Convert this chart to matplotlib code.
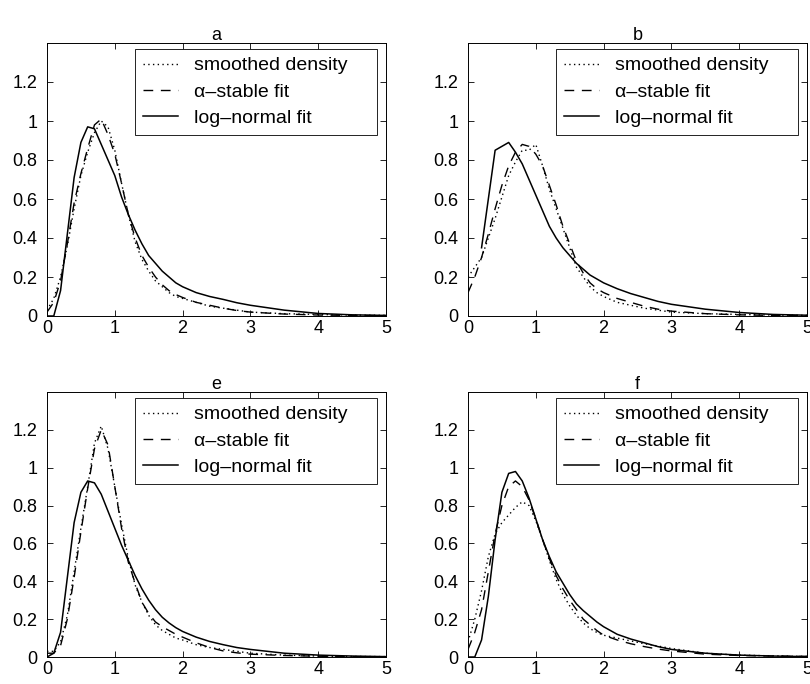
import numpy as np
import matplotlib
matplotlib.use("Agg")
import matplotlib.pyplot as plt

plt.rcParams['font.family'] = ['Liberation Sans', 'DejaVu Sans']
plt.rcParams['font.size'] = 13

nan = np.nan
x = [0.0, 0.1, 0.2, 0.3, 0.4, 0.5, 0.6, 0.7, 0.8, 0.9, 1.0,
     1.1, 1.2, 1.3, 1.4, 1.5, 1.6, 1.7, 1.8, 1.9, 2.0,
     2.2, 2.4, 2.6, 2.8, 3.0, 3.5, 4.0, 4.5, 5.0]

panel_titles = ['a', 'b', 'e', 'f']
legend_labels = ['smoothed density', '\u03b1\u2013stable fit', 'log\u2013normal fit']
xticks = [0, 1, 2, 3, 4, 5]
yticks = [0, 0.2, 0.4, 0.6, 0.8, 1.0, 1.2]
ytick_labels = ['0', '0.2', '0.4', '0.6', '0.8', '1', '1.2']

dens_a = [0.03, 0.09, 0.2, 0.36, 0.55, 0.72, 0.84, 0.94, 1.0, 0.97, 0.85,
          0.68, 0.52, 0.38, 0.29, 0.23, 0.18, 0.15, 0.12, 0.10, 0.09,
          0.07, 0.05, 0.04, 0.03, 0.02, 0.012, 0.008, 0.005, 0.003]
stable_a = [0.02, 0.07, 0.18, 0.37, 0.58, 0.73, 0.86, 0.98, 1.01, 0.93, 0.83,
            0.68, 0.52, 0.40, 0.31, 0.25, 0.20, 0.16, 0.13, 0.11, 0.095,
            0.07, 0.055, 0.04, 0.028, 0.02, 0.01, 0.005, 0.003, 0.002]
lognorm_a = [0.0, 0.0, 0.13, 0.42, 0.71, 0.89, 0.97, 0.96, 0.88, 0.80, 0.72,
             0.61, 0.52, 0.44, 0.37, 0.31, 0.27, 0.23, 0.20, 0.17, 0.15,
             0.12, 0.10, 0.085, 0.068, 0.055, 0.03, 0.013, 0.006, 0.003]

dens_b = [0.2, 0.25, 0.3, 0.4, 0.5, 0.61, 0.72, 0.79, 0.85, 0.85, 0.88,
          0.77, 0.65, 0.55, 0.45, 0.35, 0.25, 0.2, 0.15, 0.12, 0.1,
          0.07, 0.055, 0.04, 0.03, 0.02, 0.012, 0.008, 0.005, 0.003]
stable_b = [0.12, 0.2, 0.3, 0.42, 0.55, 0.67, 0.77, 0.84, 0.88, 0.87, 0.83,
            0.77, 0.67, 0.57, 0.46, 0.37, 0.28, 0.22, 0.17, 0.14, 0.12,
            0.09, 0.07, 0.05, 0.035, 0.025, 0.012, 0.006, 0.003, 0.002]
lognorm_b = [nan, nan, 0.35, 0.6, 0.85, 0.87, 0.89, 0.84, 0.78, 0.70, 0.62,
             0.54, 0.46, 0.40, 0.35, 0.31, 0.27, 0.24, 0.21, 0.19, 0.17,
             0.14, 0.115, 0.095, 0.075, 0.06, 0.035, 0.018, 0.008, 0.004]

dens_e = [0.03, 0.03, 0.08, 0.22, 0.45, 0.68, 0.9, 1.13, 1.22, 1.1, 0.9,
          0.7, 0.52, 0.38, 0.29, 0.22, 0.17, 0.14, 0.12, 0.10, 0.09,
          0.065, 0.05, 0.04, 0.03, 0.02, 0.01, 0.005, 0.003, 0.002]
stable_e = [0.02, 0.02, 0.06, 0.2, 0.42, 0.66, 0.89, 1.1, 1.2, 1.12, 0.9,
            0.68, 0.50, 0.39, 0.29, 0.23, 0.185, 0.16, 0.14, 0.12, 0.105,
            0.075, 0.05, 0.032, 0.022, 0.015, 0.008, 0.004, 0.002, 0.001]
lognorm_e = [0.0, 0.02, 0.13, 0.42, 0.71, 0.87, 0.93, 0.92, 0.86, 0.77, 0.68,
             0.59, 0.51, 0.43, 0.36, 0.30, 0.25, 0.21, 0.18, 0.155, 0.135,
             0.105, 0.082, 0.065, 0.05, 0.04, 0.02, 0.01, 0.005, 0.002]

dens_f = [0.08, 0.2, 0.35, 0.53, 0.65, 0.71, 0.75, 0.79, 0.82, 0.8, 0.72,
          0.62, 0.51, 0.41, 0.33, 0.27, 0.22, 0.18, 0.15, 0.13, 0.115,
          0.1, 0.085, 0.07, 0.058, 0.045, 0.02, 0.01, 0.006, 0.003]
stable_f = [0.04, 0.13, 0.25, 0.45, 0.65, 0.8, 0.9, 0.93, 0.9, 0.83, 0.73,
            0.62, 0.52, 0.43, 0.36, 0.30, 0.25, 0.2, 0.17, 0.14, 0.115,
            0.09, 0.07, 0.055, 0.042, 0.032, 0.015, 0.008, 0.005, 0.003]
lognorm_f = [0.0, 0.0, 0.09, 0.32, 0.62, 0.87, 0.97, 0.98, 0.93, 0.84, 0.73,
             0.62, 0.53, 0.45, 0.39, 0.33, 0.28, 0.245, 0.215, 0.185, 0.16,
             0.12, 0.095, 0.075, 0.055, 0.04, 0.02, 0.01, 0.005, 0.002]

panels = [(dens_a, stable_a, lognorm_a), (dens_b, stable_b, lognorm_b),
          (dens_e, stable_e, lognorm_e), (dens_f, stable_f, lognorm_f)]

W, H = 810, 684
fig = plt.figure(figsize=(W / 100, H / 100), dpi=100)
boxes = [(47, 43, 386, 316), (468, 43, 807, 316),
         (47, 392, 386, 657), (468, 392, 807, 657)]
# legend frame offsets (pixels) relative to the axes box: left, top
leg_left, leg_top, leg_width = 88, 6, 242

for (l, t, r, b), title, (dens, stab, logn) in zip(boxes, panel_titles, panels):
    aw, ah = r - l, b - t
    ax = fig.add_axes([l / W, (H - b) / H, aw / W, ah / H])
    ax.plot(x, dens, color='black', lw=1.0, linestyle=(0, (1, 2.4)), label=legend_labels[0])
    ax.plot(x, stab, color='black', lw=1.0, linestyle=(0, (7, 5.5)), label=legend_labels[1])
    ax.plot(x, logn, color='black', lw=1.1, linestyle='-', label=legend_labels[2])
    ax.set_xlim(0, 5)
    ax.set_ylim(0, 1.4)
    ax.set_xticks(xticks)
    ax.set_yticks(yticks)
    ax.set_yticklabels(ytick_labels)
    ax.tick_params(direction='in', length=4, width=0.6, top=True, right=True,
                   labelsize=13)
    ax.tick_params(axis='y', pad=7)
    ax.tick_params(axis='x', pad=3)
    for s in ax.spines.values():
        s.set_linewidth(0.7)
    ax.set_title(title, fontsize=13, pad=2.5)
    leg = ax.legend(loc='upper left', fontsize=14, frameon=True, fancybox=False,
                    edgecolor='black', framealpha=1, handlelength=1.8,
                    handletextpad=0.85, labelspacing=0.45, borderpad=0.4,
                    borderaxespad=0, mode='expand',
                    bbox_to_anchor=(leg_left / aw, 1 - leg_top / ah, leg_width / aw, 0))
    leg.get_frame().set_linewidth(0.6)

fig.savefig('out.png', dpi=100)
